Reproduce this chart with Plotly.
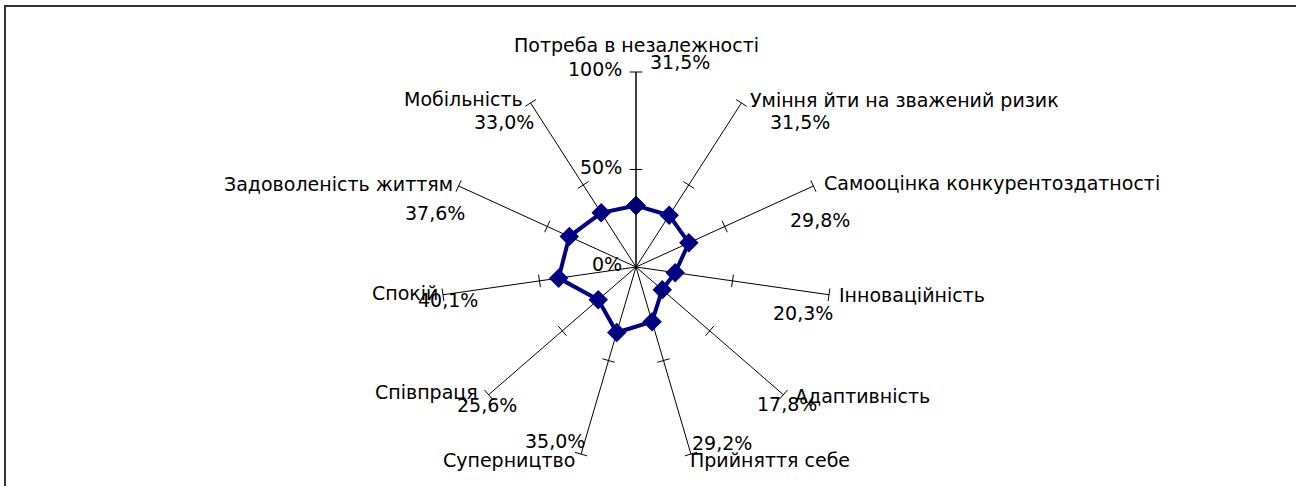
import math
import plotly.graph_objects as go

# ---- data ----
categories = [
    "Потреба в незалежності",
    "Уміння йти на зважений ризик",
    "Самооцінка конкурентоздатності",
    "Інноваційність",
    "Адаптивність",
    "Прийняття себе",
    "Суперництво",
    "Співпраця",
    "Спокій",
    "Задоволеність життям",
    "Мобільність",
]
values = [0.315, 0.315, 0.298, 0.203, 0.178, 0.292, 0.350, 0.256, 0.401, 0.376, 0.330]
radial_tickvals = [0, 0.5, 1.0]
radial_ticktext = ["0%", "50%", "100%"]

# ---- label placement (pixel nudges, layout only) ----
name_anchor = ["center", "left", "left", "left", "left", "left",
               "right", "right", "right", "right", "right"]
name_dx = [0, 7, 9, 8, 10, -3, -4, -9, -3, -4, -6]
name_dy = [-27, -3, -3, 0, 1, 6, 6, -3, -2, -2, -4]
val_dx = [44, 59, 7, -26, 4, 31, -26, -2, 5, -24, -27]
val_dy = [-10, 19, 34, 18, 9, -11, -13, 10, 5, 27, 19]

n = len(categories)
step = 360.0 / n
thetas = [i * step for i in range(n)]
value_text = [f"{v*100:.1f}%".replace(".", ",") for v in values]

FONT = "DejaVu Sans, Liberation Sans, Arial, sans-serif"
NAVY = "#000080"
FS = 19
W, H = 1296, 486
cx, cy, R = 636, 267, 195   # polar centre and outer radius in pixels


def to_paper(px, py):
    return px / W, 1 - py / H


fig = go.Figure()

# tick marks on each spoke at 50% and 100%
fig.add_trace(go.Scatterpolar(
    r=[0.5] * n + [1.0] * n,
    theta=thetas + thetas,
    mode="markers",
    marker=dict(symbol="line-ew", size=9, angle=thetas + thetas, angleref="up",
                line=dict(color="black", width=1), color="black"),
    hoverinfo="skip", showlegend=False, cliponaxis=False,
))

# data series
fig.add_trace(go.Scatterpolar(
    r=values + values[:1],
    theta=thetas + thetas[:1],
    mode="lines+markers",
    line=dict(color=NAVY, width=4),
    marker=dict(symbol="diamond", size=15, color=NAVY),
    showlegend=False,
))

annotations = []
for i in range(n):
    th = math.radians(thetas[i])
    ex = cx + R * math.sin(th)
    ey = cy - R * math.cos(th)
    x, y = to_paper(ex, ey)
    annotations.append(dict(
        x=x, y=y, xref="paper", yref="paper", text=categories[i], showarrow=False,
        xanchor=name_anchor[i], yanchor="middle", xshift=name_dx[i], yshift=-name_dy[i],
        font=dict(family=FONT, size=FS, color="black"),
    ))
    annotations.append(dict(
        x=x, y=y, xref="paper", yref="paper", text=value_text[i], showarrow=False,
        xanchor="center", yanchor="middle", xshift=val_dx[i], yshift=-val_dy[i],
        font=dict(family=FONT, size=FS, color="black"),
    ))

for v, t in zip(radial_tickvals, radial_ticktext):
    x, y = to_paper(cx, cy - v * R)
    annotations.append(dict(
        x=x, y=y, xref="paper", yref="paper", text=t, showarrow=False,
        xanchor="right", yanchor="middle", xshift=-12, yshift=3,
        font=dict(family=FONT, size=FS, color="black"),
    ))

fig.update_layout(
    width=W, height=H,
    margin=dict(l=0, r=0, t=0, b=0),
    paper_bgcolor="white",
    font=dict(family=FONT, size=FS, color="black"),
    polar=dict(
        domain=dict(x=[(cx - R) / W, (cx + R) / W], y=[(H - cy - R) / H, (H - cy + R) / H]),
        bgcolor="rgba(0,0,0,0)",
        angularaxis=dict(
            rotation=90, direction="clockwise",
            tickmode="array", tickvals=thetas, ticktext=categories,
            showticklabels=False,
            showgrid=True, gridcolor="black", gridwidth=1,
            showline=False, ticks="",
        ),
        radialaxis=dict(
            range=[0, 1], angle=90,
            tickmode="array", tickvals=radial_tickvals, ticktext=radial_ticktext,
            showticklabels=False,
            showgrid=False, showline=True, linecolor="black", linewidth=1,
            ticks="",
        ),
    ),
    annotations=annotations,
    shapes=[dict(type="rect", xref="paper", yref="paper",
                 x0=5 / W, x1=1.05, y0=-0.05, y1=1 - 6 / H,
                 line=dict(color="#333333", width=2))],
)

fig.write_html("out.html", config={"displayModeBar": False},
               post_script="document.body.style.margin='0px';")
